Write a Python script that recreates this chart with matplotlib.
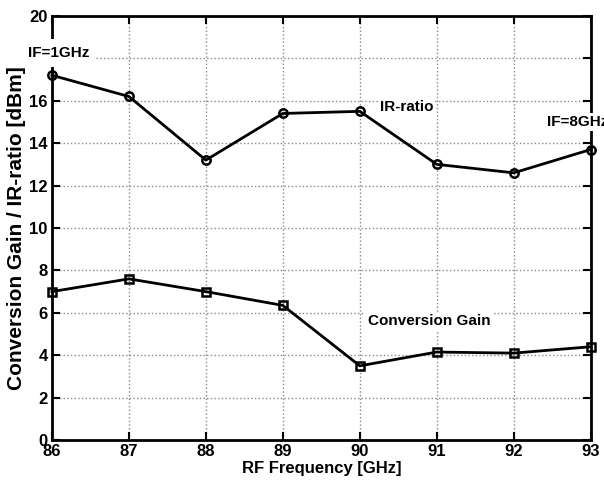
import numpy as np
import matplotlib.pyplot as plt

plt.rcParams['font.family'] = ['Liberation Sans', 'DejaVu Sans']
plt.rcParams['font.weight'] = 'bold'

freq = [86, 87, 88, 89, 90, 91, 92, 93]
ir_ratio = [17.2, 16.2, 13.2, 15.4, 15.5, 13.0, 12.6, 13.7]
conv_gain = [7.0, 7.6, 7.0, 6.35, 3.5, 4.15, 4.1, 4.4]

fig = plt.figure(figsize=(6.04, 4.82), dpi=100)
ax = fig.add_axes([0.086, 0.087, 0.892, 0.880])

ax.plot(freq, ir_ratio, 'k-', marker='o', markersize=6, markerfacecolor='none',
        markeredgewidth=1.8, linewidth=2, clip_on=False, zorder=3)
ax.plot(freq, conv_gain, 'k-', marker='s', markersize=5.5, markerfacecolor='none',
        markeredgewidth=1.8, linewidth=2, clip_on=False, zorder=3)

ax.set_xlim(86, 93)
ax.set_ylim(0, 20)
ax.set_xticks(freq)
ax.set_yticks(np.arange(0, 21, 2))
ax.grid(True, linestyle=':', color='#888888', linewidth=1)
ax.tick_params(direction='in', top=True, right=True, length=6, width=1.5,
               labelsize=12, pad=3)
for lbl in ax.get_xticklabels() + ax.get_yticklabels():
    lbl.set_fontweight('bold')
for s in ax.spines.values():
    s.set_linewidth(2)

ax.set_xlabel('RF Frequency [GHz]', fontsize=12, fontweight='bold', labelpad=1)
ax.set_ylabel('Conversion Gain / IR-ratio [dBm]', fontsize=15, fontweight='bold', labelpad=2)

box = dict(facecolor='white', edgecolor='none', pad=1.5)
big_box = dict(facecolor='white', edgecolor='none', pad=5)
ax.text(85.69, 18.25, 'IF=1GHz', fontsize=11, fontweight='bold', ha='left', va='center',
        bbox=big_box, clip_on=False, zorder=10)
ax.text(90.26, 15.7, 'IR-ratio', fontsize=11, fontweight='bold', ha='left', va='center',
        bbox=box, zorder=10)
ax.text(92.43, 15.0, 'IF=8GHz', fontsize=11, fontweight='bold', ha='left', va='center',
        bbox=box, clip_on=False, zorder=10)
ax.text(90.10, 5.6, 'Conversion Gain', fontsize=11, fontweight='bold', ha='left', va='center',
        bbox=box, zorder=10)

fig.savefig('out.png', dpi=100)
